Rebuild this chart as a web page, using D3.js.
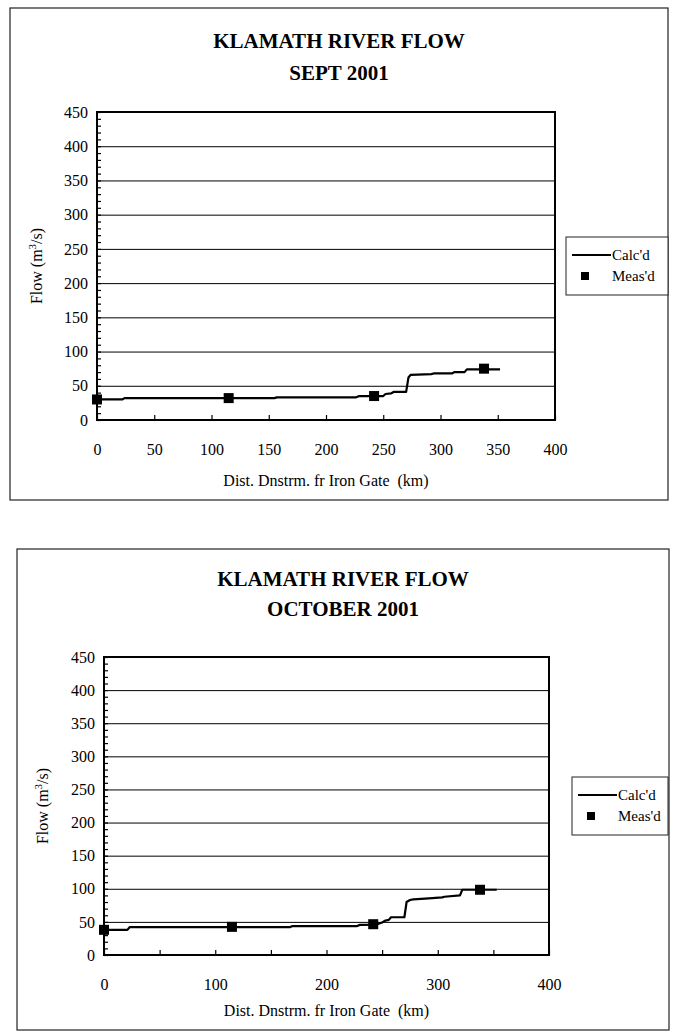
<!DOCTYPE html>
<html>
<head>
<meta charset="utf-8">
<script src="https://cdn.jsdelivr.net/npm/d3@7"></script>
<style>
  body { margin: 0; background: #fff; }
  svg text { font-family: "Liberation Serif", "Times New Roman", Times, "DejaVu Serif", serif !important; }
</style>
</head>
<body>
<svg id="chart" width="678" height="1035"></svg>
<script>
// ---- September 2001 ----
const septKm   = [0, 22, 24, 155, 157, 226, 229, 250, 252, 257, 259, 270, 272, 274, 292, 294, 310, 312, 321, 323, 352];
const septFlow = [30, 30, 32, 32, 33, 33, 35, 35, 38, 39, 41, 41, 62, 66, 67, 68, 68, 70, 70, 74, 74];
const septMeasKm   = [0, 115, 242, 338];
const septMeasFlow = [30, 32, 35, 75];

// ---- October 2001 ----
const octKm   = [0, 21, 23, 167, 169, 227, 230, 245, 250, 253, 256, 258, 270, 272, 275, 278, 292, 304, 306, 320, 322, 353];
const octFlow = [38, 38, 42, 42, 43.5, 43.5, 45.5, 46, 49, 52, 53, 57, 57, 80, 83, 84, 85.5, 87, 88, 90, 98.5, 98.5];
const octMeasKm   = [0, 115, 242, 338];
const octMeasFlow = [38, 42.5, 46.5, 98.5];

// ---- axes ----
const yTickValues   = [0, 50, 100, 150, 200, 250, 300, 350, 400, 450];
const yGridValues   = [50, 100, 150, 200, 250, 300, 350, 400];
const yMinorValues  = d3.range(0, 451, 10);
const xTickMarks    = [0, 50, 100, 150, 200, 250, 300, 350, 400];
const septXLabels   = [0, 50, 100, 150, 200, 250, 300, 350, 400];
const octXLabels    = [0, 100, 200, 300, 400];

const titleLine1 = "KLAMATH RIVER FLOW";
const septTitle2 = "SEPT 2001";
const octTitle2  = "OCTOBER 2001";
const xTitle = "Dist. Dnstrm. fr Iron Gate  (km)";
const legendNames = ["Calc'd", "Meas'd"];

const SERIF = '"Liberation Serif", "Times New Roman", Times, "DejaVu Serif", serif';
const svg = d3.select("#chart").attr("font-family", SERIF);

function panel(p) {
  const g = svg.append("g");

  // outer frame
  g.append("rect")
    .attr("x", p.box[0]).attr("y", p.box[1])
    .attr("width", p.box[2]).attr("height", p.box[3])
    .attr("fill", "#fff").attr("stroke", "#222").attr("stroke-width", 1.2);

  // title
  const cx = p.box[0] + p.box[2] / 2;
  [titleLine1, p.title2].forEach((t, i) => {
    g.append("text").attr("x", cx).attr("y", p.titleY[i])
      .attr("text-anchor", "middle").attr("font-weight", "bold").attr("font-size", 21)
      .attr("font-family", SERIF).text(t);
  });

  const x = d3.scaleLinear().domain([0, 400]).range([p.left, p.right]);
  const y = d3.scaleLinear().domain([0, 450]).range([p.bottom, p.top]);
  const w = p.right - p.left;

  // horizontal gridlines
  g.append("g").attr("transform", `translate(${p.left},0)`)
    .call(d3.axisLeft(y).tickValues(yGridValues).tickSize(-w).tickFormat(""))
    .call(a => a.select(".domain").remove())
    .call(a => a.selectAll("line").attr("stroke", "#000").attr("stroke-width", 1));

  // minor y ticks pointing inward
  g.append("g").attr("transform", `translate(${p.left},0)`)
    .call(d3.axisRight(y).tickValues(yMinorValues).tickSize(4).tickFormat(""))
    .call(a => a.select(".domain").remove())
    .call(a => a.selectAll("line").attr("stroke", "#000").attr("stroke-width", 1.2));

  // x ticks pointing inward
  g.append("g").attr("transform", `translate(0,${p.bottom})`)
    .call(d3.axisTop(x).tickValues(xTickMarks).tickSize(5).tickFormat(""))
    .call(a => a.select(".domain").remove())
    .call(a => a.selectAll("line").attr("stroke", "#000").attr("stroke-width", 1.2));

  // y labels
  g.append("g").attr("transform", `translate(${p.left},0)`)
    .call(d3.axisLeft(y).tickValues(yTickValues).tickSize(0).tickPadding(p.yPad).tickFormat(d3.format("d")))
    .attr("font-family", SERIF)
    .call(a => a.select(".domain").remove())
    .call(a => a.selectAll("text").attr("font-size", 16).attr("font-family", SERIF).attr("fill", "#000"));

  // x labels
  g.append("g").attr("transform", `translate(0,${p.bottom})`)
    .call(d3.axisBottom(x).tickValues(p.xLabels).tickSize(0).tickPadding(p.xPad).tickFormat(d3.format("d")))
    .attr("font-family", SERIF)
    .call(a => a.select(".domain").remove())
    .call(a => a.selectAll("text").attr("font-size", 16).attr("font-family", SERIF).attr("fill", "#000"));

  // plot frame
  g.append("rect").attr("x", p.left).attr("y", p.top)
    .attr("width", w).attr("height", p.bottom - p.top)
    .attr("fill", "none").attr("stroke", "#000").attr("stroke-width", 2);

  // axis titles
  g.append("text").attr("x", (p.left + p.right) / 2).attr("y", p.xTitleY)
    .attr("text-anchor", "middle").attr("font-size", 16).attr("font-family", SERIF)
    .style("white-space", "pre").text(xTitle);
  const yt = g.append("text")
    .attr("transform", `translate(${p.yTitleX},${(p.top + p.bottom) / 2}) rotate(-90)`)
    .attr("text-anchor", "middle").attr("font-size", 16).attr("font-family", SERIF);
  yt.append("tspan").text("Flow (m");
  yt.append("tspan").attr("baseline-shift", "super").attr("font-size", 11).text("3");
  yt.append("tspan").text("/s)");

  // calculated flow
  const line = d3.line().x(d => x(d[0])).y(d => y(d[1]));
  g.append("path").datum(d3.zip(p.km, p.flow))
    .attr("d", line).attr("fill", "none").attr("stroke", "#000")
    .attr("stroke-width", 2.2).attr("stroke-linejoin", "round");

  // measured flow
  const ms = 10;
  g.selectAll("rect.meas").data(d3.zip(p.measKm, p.measFlow)).join("rect")
    .attr("class", "meas")
    .attr("x", d => x(d[0]) - ms / 2).attr("y", d => y(d[1]) - ms / 2)
    .attr("width", ms).attr("height", ms).attr("fill", "#000");

  // legend
  const L = p.legend;
  g.append("rect").attr("x", L[0]).attr("y", L[1]).attr("width", L[2]).attr("height", L[3])
    .attr("fill", "#fff").attr("stroke", "#222").attr("stroke-width", 1);
  g.append("line").attr("x1", L[0] + 6).attr("x2", L[0] + 45)
    .attr("y1", L[1] + 18).attr("y2", L[1] + 18).attr("stroke", "#000").attr("stroke-width", 2);
  g.append("text").attr("x", L[0] + 46).attr("y", L[1] + 23).attr("font-size", 15)
    .attr("font-family", SERIF).text(legendNames[0]);
  g.append("rect").attr("x", L[0] + 15).attr("y", L[1] + 35).attr("width", 8).attr("height", 8).attr("fill", "#000");
  g.append("text").attr("x", L[0] + 46).attr("y", L[1] + 44).attr("font-size", 15)
    .attr("font-family", SERIF).text(legendNames[1]);
}

panel({
  box: [10, 8, 658, 492], titleY: [48, 80], title2: septTitle2,
  left: 97, right: 555, top: 112, bottom: 420, yPad: 9, xPad: 24,
  xLabels: septXLabels, xTitleY: 486, yTitleX: 42,
  km: septKm, flow: septFlow, measKm: septMeasKm, measFlow: septMeasFlow,
  legend: [566, 237, 102, 58]
});

panel({
  box: [17, 549, 652, 481], titleY: [586, 616], title2: octTitle2,
  left: 104, right: 549, top: 657, bottom: 955, yPad: 9, xPad: 24,
  xLabels: octXLabels, xTitleY: 1016, yTitleX: 48,
  km: octKm, flow: octFlow, measKm: octMeasKm, measFlow: octMeasFlow,
  legend: [572, 777, 96, 58]
});
</script>
</body>
</html>
